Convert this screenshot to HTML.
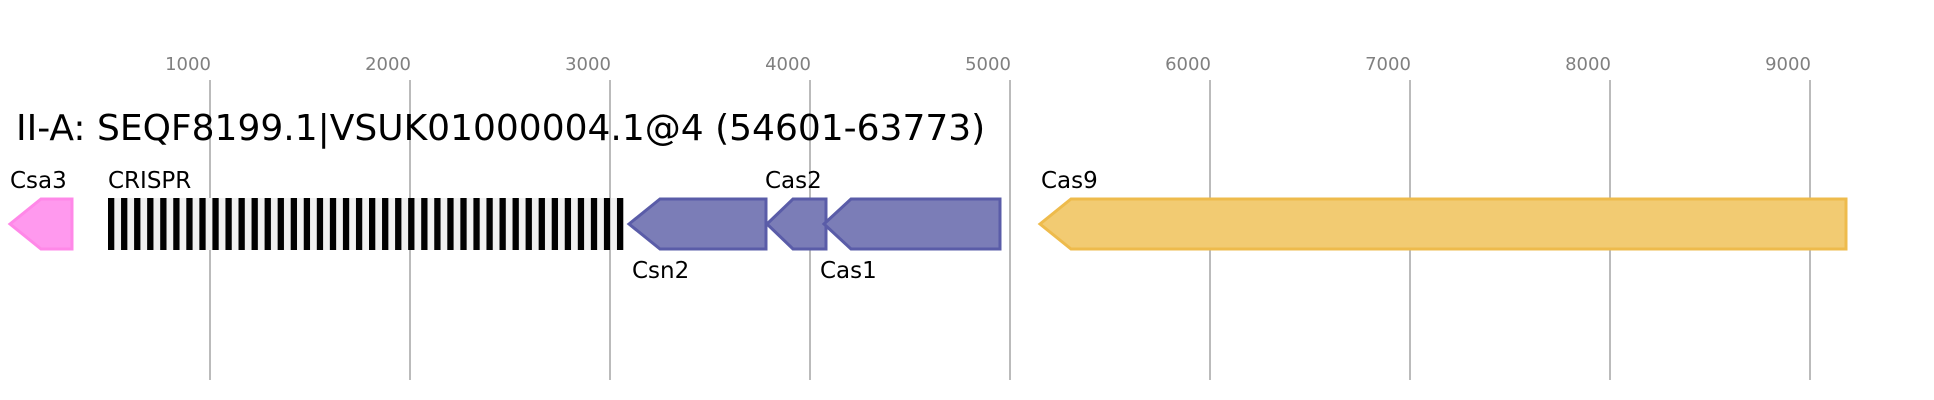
<!DOCTYPE html>
<html><head><meta charset="utf-8"><style>
html,body{margin:0;padding:0;background:#fff;}
svg{display:block;font-family:"DejaVu Sans","Liberation Sans",sans-serif;}
</style></head><body>
<svg width="1934" height="400" xmlns="http://www.w3.org/2000/svg">
<defs>
<pattern id="cr" x="108" y="0" width="13.05" height="10" patternUnits="userSpaceOnUse">
<rect width="13.05" height="10" fill="#f0f0f0"/><rect width="6.3" height="10" fill="#000"/>
</pattern>
</defs>
<g stroke="#bbb" stroke-width="2">
<line x1="210" y1="80" x2="210" y2="380"/>
<line x1="410" y1="80" x2="410" y2="380"/>
<line x1="610" y1="80" x2="610" y2="380"/>
<line x1="810" y1="80" x2="810" y2="380"/>
<line x1="1010" y1="80" x2="1010" y2="380"/>
<line x1="1210" y1="80" x2="1210" y2="380"/>
<line x1="1410" y1="80" x2="1410" y2="380"/>
<line x1="1610" y1="80" x2="1610" y2="380"/>
<line x1="1810" y1="80" x2="1810" y2="380"/>
</g>
<g fill="#808080" font-size="18" text-anchor="middle">
<text x="188" y="70">1000</text><text x="388" y="70">2000</text><text x="588" y="70">3000</text>
<text x="788" y="70">4000</text><text x="988" y="70">5000</text><text x="1188" y="70">6000</text>
<text x="1388" y="70">7000</text><text x="1588" y="70">8000</text><text x="1788" y="70">9000</text>
</g>
<text x="16" y="140" font-size="36">II-A: SEQF8199.1|VSUK01000004.1@4 (54601-63773)</text>
<polygon points="10,224 41,199 72,199 72,249 41,249" fill="#ff99ee" stroke="#ff88e8" stroke-width="3"/>
<rect x="108" y="198" width="516" height="52" fill="url(#cr)"/>
<g fill="#7b7db7" stroke="#5a5ca8" stroke-width="3">
<polygon points="629,224 660,199 766,199 766,249 660,249"/>
<polygon points="767,224 793,199 826,199 826,249 793,249"/>
<polygon points="824,224 851,199 1000,199 1000,249 851,249"/>
</g>
<polygon points="1040,224 1071,199 1846,199 1846,249 1071,249" fill="#f2cb72" stroke="#eebb4c" stroke-width="3"/>
<g font-size="23" fill="#000">
<text x="10" y="188">Csa3</text>
<text x="108" y="188">CRISPR</text>
<text x="632" y="278">Csn2</text>
<text x="765" y="188">Cas2</text>
<text x="820" y="278">Cas1</text>
<text x="1041" y="188">Cas9</text>
</g>
</svg>
</body></html>
